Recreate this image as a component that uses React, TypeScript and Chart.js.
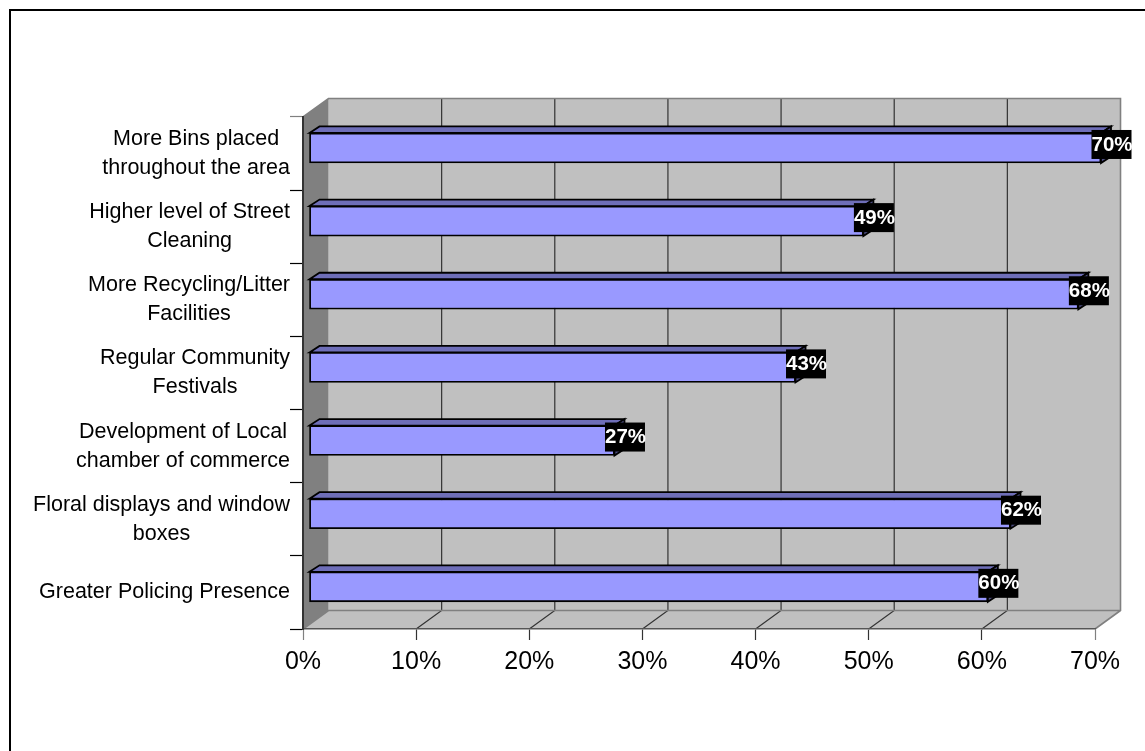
import React, { useEffect, useRef } from "react";
import { Chart, registerables } from "chart.js";

Chart.register(...registerables);

const categories: string[][] = [
  ["More Bins placed", "throughout the area"],
  ["Higher level of Street", "Cleaning"],
  ["More Recycling/Litter", "Facilities"],
  ["Regular Community", "Festivals"],
  ["Development of Local", "chamber of commerce"],
  ["Floral displays and window", "boxes"],
  ["Greater Policing Presence"],
];
const percentValues = [70, 49, 68, 43, 27, 62, 60];
const axisMax = 70;
const axisStep = 10;

const WALL_DX = 25.5;
const WALL_DY = -18.5;
const BAR_SHIFT_X = 6;
const BAR_SHIFT_Y = -5.6;
const BAR_DX = 10;
const BAR_DY = -6.5;
const FONT = '"Liberation Sans", Arial, sans-serif';

const poly = (ctx: CanvasRenderingContext2D, pts: number[][]) => {
  ctx.beginPath();
  pts.forEach(([x, y], i) => (i ? ctx.lineTo(x, y) : ctx.moveTo(x, y)));
  ctx.closePath();
};

const wallsPlugin = {
  id: "walls",
  beforeDraw(chart: any) {
    const { ctx, chartArea: a, scales } = chart;
    const { left: l, right: r, top: t, bottom: b } = a;
    const dx = WALL_DX, dy = WALL_DY;
    ctx.save();
    // outer frame
    ctx.strokeStyle = "#000";
    ctx.lineWidth = 2;
    ctx.strokeRect(10, 10, 2000, 2000);
    // back wall, floor, side wall
    ctx.fillStyle = "#C0C0C0";
    ctx.fillRect(l + dx, t + dy, r - l, b - t);
    poly(ctx, [[l, b], [l + dx, b + dy], [r + dx, b + dy], [r, b]]);
    ctx.fill();
    ctx.fillStyle = "#808080";
    poly(ctx, [[l, t], [l + dx, t + dy], [l + dx, b + dy], [l, b]]);
    ctx.fill();
    // grid lines on back wall and floor
    ctx.strokeStyle = "#333";
    ctx.lineWidth = 1.2;
    for (let v = axisStep; v < axisMax; v += axisStep) {
      const x = scales.x.getPixelForValue(v);
      ctx.beginPath();
      ctx.moveTo(x, b);
      ctx.lineTo(x + dx, b + dy);
      ctx.lineTo(x + dx, t + dy);
      ctx.stroke();
    }
    // gray wall edges
    ctx.strokeStyle = "#808080";
    ctx.lineWidth = 1.6;
    ctx.beginPath();
    ctx.moveTo(l, t);
    ctx.lineTo(l + dx, t + dy);
    ctx.lineTo(r + dx, t + dy);
    ctx.lineTo(r + dx, b + dy);
    ctx.lineTo(r, b);
    ctx.moveTo(l, b);
    ctx.lineTo(l + dx, b + dy);
    ctx.lineTo(r + dx, b + dy);
    ctx.stroke();
    ctx.restore();

    // centre each multi-line category label on itself, keeping the right edge
    const items = scales.y.getLabelItems(a);
    ctx.save();
    for (const item of items) {
      ctx.font = item.font.string;
      const lines: string[] = Array.isArray(item.label) ? item.label : [item.label];
      const w = Math.max(...lines.map((s) => ctx.measureText(s).width));
      item.options.textAlign = "center";
      item.options.translation[0] = 290 - w / 2;
    }
    ctx.restore();
  },
  beforeDatasetDraw(chart: any, args: any) {
    const ctx = chart.ctx;
    ctx.save();
    ctx.translate(BAR_SHIFT_X, BAR_SHIFT_Y);
    // 3-D faces behind the front rectangles
    const els = chart.getDatasetMeta(args.index).data;
    ctx.strokeStyle = "#000";
    ctx.lineWidth = 1.8;
    ctx.lineJoin = "miter";
    for (const el of els) {
      const h = el.height / 2;
      const top = el.y - h, bot = el.y + h;
      ctx.fillStyle = "#6E6EB8";
      poly(ctx, [[el.base, top], [el.base + BAR_DX, top + BAR_DY], [el.x + BAR_DX, top + BAR_DY], [el.x, top]]);
      ctx.fill();
      ctx.stroke();
      ctx.fillStyle = "#4D4D80";
      poly(ctx, [[el.x, top], [el.x + BAR_DX, top + BAR_DY], [el.x + BAR_DX, bot + BAR_DY], [el.x, bot]]);
      ctx.fill();
      ctx.stroke();
    }
  },
  afterDatasetDraw(chart: any, args: any) {
    const ctx = chart.ctx;
    ctx.restore();
    // data labels
    const els = chart.getDatasetMeta(args.index).data;
    ctx.save();
    ctx.font = `bold 20.5px ${FONT}`;
    ctx.textAlign = "left";
    ctx.textBaseline = "middle";
    els.forEach((el: any, i: number) => {
      const left = el.x + BAR_SHIFT_X - 9.5;
      const top = el.y - el.height / 2 + BAR_SHIFT_Y - 3;
      ctx.fillStyle = "#000";
      ctx.fillRect(left, top, 40, 29);
      ctx.fillStyle = "#fff";
      ctx.fillText(`${percentValues[i]}%`, left, top + 15);
    });
    ctx.restore();
  },
};

export default function App() {
  const ref = useRef<HTMLCanvasElement>(null);
  useEffect(() => {
    const chart = new Chart(ref.current!, {
      type: "bar",
      data: {
        labels: categories,
        datasets: [
          {
            data: percentValues,
            backgroundColor: "#9999FF",
            borderColor: "#000",
            borderWidth: 1.8,
            borderSkipped: false,
            barThickness: 30,
          },
        ],
      },
      options: {
        indexAxis: "y",
        responsive: false,
        animation: false,
        devicePixelRatio: 1,
        layout: { padding: { top: 117, right: 50, left: 0, bottom: 0 } },
        plugins: { legend: { display: false }, title: { display: false }, tooltip: { enabled: false } },
        scales: {
          x: {
            type: "linear",
            min: 0,
            max: axisMax,
            afterFit: (s: any) => { s.height = 122; },
            grid: {
              drawOnChartArea: false,
              tickLength: 11,
              tickColor: (c: any) => (c.index === 0 || c.index === 7 ? "#808080" : "#333"),
              tickWidth: 1.2,
            },
            border: { color: "#555", width: 1.6 },
            ticks: {
              stepSize: axisStep,
              padding: 7,
              maxRotation: 0,
              color: "#000",
              font: { family: FONT, size: 25 },
              callback: (v: any) => `${v}%`,
            },
          },
          y: {
            type: "category",
            afterFit: (s: any) => { s.width = 303; },
            grid: {
              drawOnChartArea: false,
              tickLength: 13,
              tickColor: (c: any) => (c.index === 0 ? "#808080" : "#000"),
              tickWidth: 1.2,
            },
            border: { color: "#333", width: 2 },
            ticks: {
              padding: 0,
              autoSkip: false,
              color: "#000",
              font: { family: FONT, size: 21.5, lineHeight: 1.35 },
            },
          },
        },
      },
      plugins: [wallsPlugin],
    } as any);
    return () => chart.destroy();
  }, []);
  return (
    <canvas
      ref={ref}
      width={1145}
      height={751}
      style={{ position: "fixed", left: 0, top: 0, width: 1145, height: 751, background: "#fff" }}
    />
  );
}
